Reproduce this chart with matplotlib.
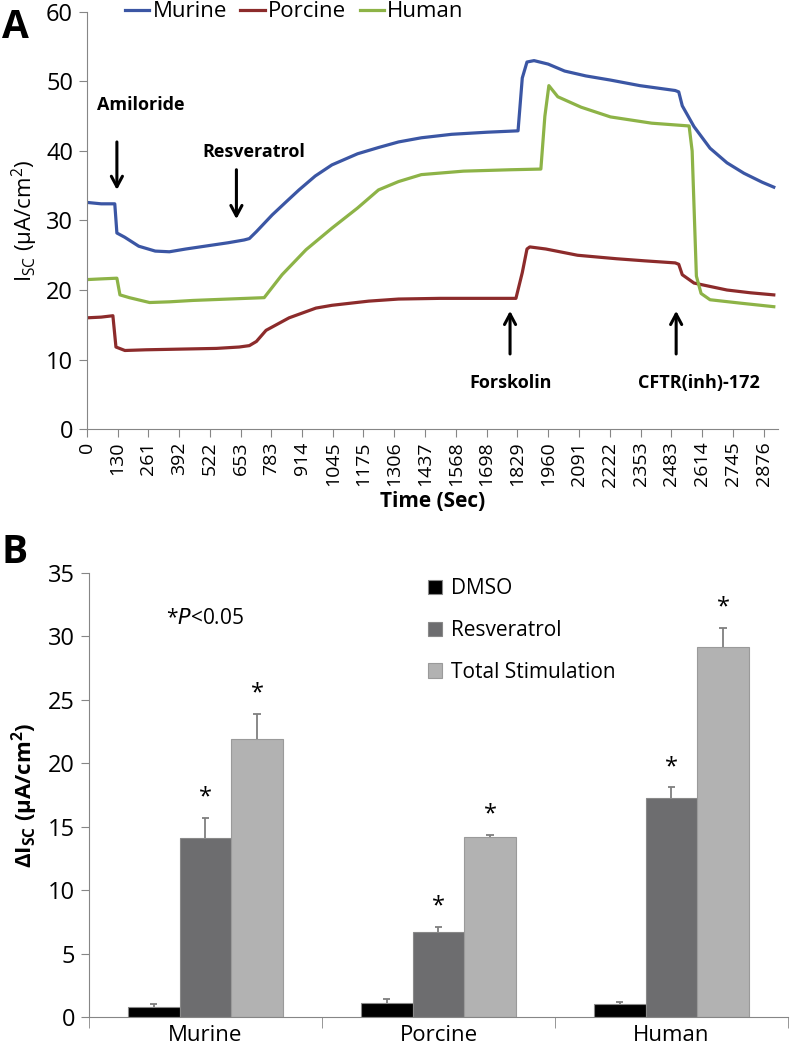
import matplotlib
matplotlib.use('Agg')
import matplotlib.pyplot as plt
import numpy as np

plt.rcParams['font.family'] = ['Open Sans', 'DejaVu Sans']
plt.rcParams['mathtext.fontset'] = 'custom'
plt.rcParams['mathtext.rm'] = 'Open Sans'

# ---- Panel A: Isc traces (time in s, current in uA/cm2) ----
murine_t = [0, 60, 118, 127, 160, 220, 290, 350, 420, 500, 600, 668, 690, 720, 787, 850, 901,
            970, 1041, 1150, 1239, 1324, 1421, 1550, 1700, 1832, 1850, 1870, 1900, 1960, 2030,
            2120, 2225, 2350, 2500, 2515, 2530, 2580, 2648, 2720, 2792, 2870, 2919]
murine_v = [32.6, 32.4, 32.4, 28.2, 27.6, 26.3, 25.6, 25.5, 25.9, 26.3, 26.8, 27.2, 27.4, 28.4,
            30.8, 32.8, 34.4, 36.4, 38.0, 39.6, 40.5, 41.3, 41.9, 42.4, 42.7, 42.9, 50.5, 52.8,
            53.0, 52.5, 51.5, 50.8, 50.2, 49.4, 48.7, 48.5, 46.5, 43.5, 40.4, 38.3, 36.8, 35.5, 34.8]

porcine_t = [0, 60, 110, 123, 161, 250, 400, 550, 647, 690, 720, 761, 859, 973, 1041, 1197, 1324,
             1500, 1700, 1823, 1850, 1870, 1882, 1950, 2085, 2250, 2369, 2500, 2515, 2530, 2580,
             2650, 2720, 2820, 2919]
porcine_v = [16.0, 16.1, 16.3, 11.8, 11.3, 11.4, 11.5, 11.6, 11.8, 12.0, 12.6, 14.2, 16.0, 17.4,
             17.8, 18.4, 18.7, 18.8, 18.8, 18.8, 22.5, 25.9, 26.2, 25.9, 25.0, 24.5, 24.2, 23.9,
             23.7, 22.2, 21.0, 20.5, 20.0, 19.6, 19.3]

human_t = [0, 60, 127, 140, 180, 266, 350, 450, 600, 753, 829, 931, 1041, 1150, 1239, 1324, 1421,
           1600, 1800, 1929, 1946, 1963, 2001, 2100, 2225, 2400, 2559, 2572, 2590, 2610, 2648,
           2780, 2919]
human_v = [21.5, 21.6, 21.7, 19.3, 18.9, 18.2, 18.3, 18.5, 18.7, 18.9, 22.2, 25.8, 28.9, 31.8,
           34.4, 35.6, 36.6, 37.1, 37.3, 37.4, 45.0, 49.4, 47.8, 46.3, 44.9, 44.0, 43.6, 40.0,
           22.0, 19.5, 18.6, 18.1, 17.6]

time_ticks = [0, 130, 261, 392, 522, 653, 783, 914, 1045, 1175, 1306, 1437, 1568, 1698, 1829,
              1960, 2091, 2222, 2353, 2483, 2614, 2745, 2876]

# ---- Panel B: delta Isc bars ----
species = ['Murine', 'Porcine', 'Human']
dmso = [0.8, 1.1, 1.0]
dmso_err = [0.2, 0.3, 0.2]
resv = [14.1, 6.7, 17.3]
resv_err = [1.6, 0.4, 0.8]
total = [21.9, 14.2, 29.2]
total_err = [2.0, 0.15, 1.5]

spine_col = '#868686'

fig = plt.figure(figsize=(7.91, 10.49), dpi=100)

# ---------------- A ----------------
ax = fig.add_axes([0.110, 0.591, 0.8736, 0.3976])
ax.plot(murine_t, murine_v, color='#3b56a4', lw=2.3, label='Murine')
ax.plot(porcine_t, porcine_v, color='#8c2b2b', lw=2.3, label='Porcine')
ax.plot(human_t, human_v, color='#8db347', lw=2.3, label='Human')
ax.set_xlim(0, 2937)
ax.set_ylim(0, 60)
ax.set_yticks(range(0, 61, 10))
ax.set_xticks(time_ticks)
ax.set_xticklabels([str(t) for t in time_ticks], rotation=90, fontsize=14)
ax.tick_params(axis='y', labelsize=17, length=6, color=spine_col, pad=4)
ax.tick_params(axis='x', length=6, color=spine_col, pad=3)
for s in ['top', 'right']:
    ax.spines[s].set_visible(False)
for s in ['left', 'bottom']:
    ax.spines[s].set_color(spine_col)
ax.set_xlabel('Time (Sec)', fontsize=15, fontweight='bold', labelpad=3)
ax.set_ylabel(r'I$_{\mathregular{SC}}$ (μA/cm$^{\mathregular{2}}$)', fontsize=16, labelpad=4)
ax.legend(loc='center', bbox_to_anchor=(0.30, 1.0), ncol=3, frameon=False, fontsize=16,
          handlelength=1.1, handletextpad=0.15, columnspacing=0.6, borderpad=0)

arrow_kw = dict(arrowstyle='->, head_length=0.75, head_width=0.4', lw=2.2, color='black')
ax.annotate('', xy=(127, 34.0), xytext=(127, 41.7), arrowprops=arrow_kw)
ax.annotate('', xy=(635, 29.8), xytext=(635, 37.7), arrowprops=arrow_kw)
ax.annotate('', xy=(1798, 17.4), xytext=(1798, 10.4), arrowprops=arrow_kw)
ax.annotate('', xy=(2504, 17.4), xytext=(2504, 10.4), arrowprops=arrow_kw)
tkw = dict(fontsize=13, fontweight='bold', ha='center', va='center')
ax.text(228, 46.6, 'Amiloride', **tkw)
ax.text(707, 39.9, 'Resveratrol', **tkw)
ax.text(1802, 6.6, 'Forskolin', **tkw)
ax.text(2601, 6.6, 'CFTR(inh)-172', **tkw)
fig.text(0.002, 0.992, 'A', fontsize=28, fontweight='bold', va='top', ha='left')

# ---------------- B ----------------
bx = fig.add_axes([0.1125, 0.0305, 0.8837, 0.4233])
x = np.arange(len(species))
w = 0.223
groups = [(x - w, dmso, dmso_err, '#000000', '#898989', 'DMSO'),
          (x, resv, resv_err, '#6d6d6f', '#898989', 'Resveratrol'),
          (x + w, total, total_err, '#b2b2b2', '#9a9a9a', 'Total Stimulation')]
for xs, vals, errs, fc, ec, lab in groups:
    bx.bar(xs, vals, w, color=fc, edgecolor=ec, lw=0.8, label=lab, zorder=2)
    tops = np.array(vals) + np.array(errs)
    bx.vlines(xs, vals, tops, color='#7f7f7f', lw=1.3, zorder=3)
    bx.hlines(tops, xs - 0.017, xs + 0.017, color='#7f7f7f', lw=1.3, zorder=3)
for xs, vals, errs in [(x, resv, resv_err), (x + w, total, total_err)]:
    for xi, v, e in zip(xs, vals, errs):
        bx.text(xi, v + e + 1.6, '*', fontsize=17, ha='center', va='center')

bx.set_xlim(-0.5, 2.5)
bx.set_ylim(0, 35)
bx.set_yticks(range(0, 36, 5))
bx.set_xticks(x)
bx.set_xticklabels(species, fontsize=16)
bx.set_xticks([-0.5, 0.5, 1.5, 2.5], minor=True)
bx.tick_params(axis='x', which='major', length=0, pad=6)
bx.tick_params(axis='x', which='minor', length=8, color=spine_col)
bx.tick_params(axis='y', labelsize=17, length=6, color=spine_col, pad=4)
for s in ['top', 'right']:
    bx.spines[s].set_visible(False)
for s in ['left', 'bottom']:
    bx.spines[s].set_color(spine_col)
bx.set_ylabel(r'ΔI$_{\mathregular{SC}}$ (μA/cm$^{\mathregular{2}}$)', fontsize=16,
              fontweight='bold', labelpad=6)
bx.text(0.0, 31.4, r'*$\it{P}$<0.05', fontsize=15, ha='center', va='center')
bx.legend(loc='upper left', bbox_to_anchor=(0.458, 1.03), frameon=False, fontsize=15,
          handlelength=0.7, handleheight=0.7, handletextpad=0.4, labelspacing=1.0)
fig.text(0.002, 0.492, 'B', fontsize=28, fontweight='bold', va='top', ha='left')

fig.savefig('out.png', dpi=100)
